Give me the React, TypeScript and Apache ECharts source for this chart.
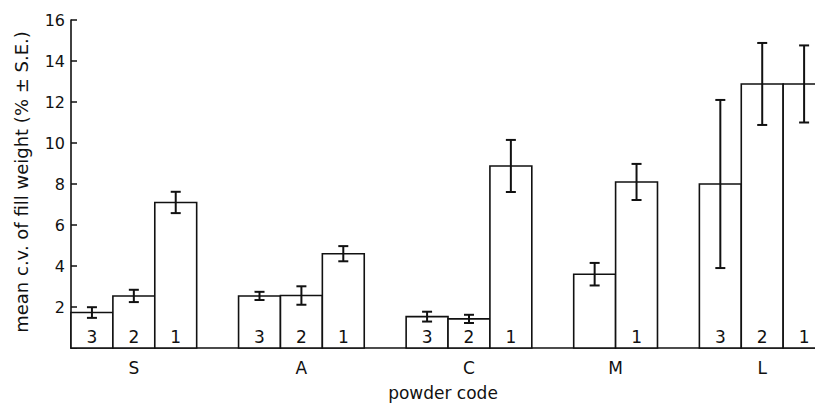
import React, { useEffect, useRef } from "react";
import * as echarts from "echarts";

// powder groups and where their labels sit (slot units)
const groupNames = ["S", "A", "C", "M", "L"];
const groupCenters = [1.5, 5.5, 9.5, 13, 16.5];

// each bar occupies one slot [slot, slot+1]
const barSlots = [0, 1, 2, 4, 5, 6, 8, 9, 10, 12, 13, 15, 16, 17];
const barCodes = ["3", "2", "1", "3", "2", "1", "3", "2", "1", "", "1", "3", "2", "1"];
const barMeans = [1.73, 2.54, 7.1, 2.54, 2.56, 4.6, 1.53, 1.42, 8.88, 3.6, 8.1, 8.0, 12.88, 12.88];
const barSE = [0.26, 0.3, 0.52, 0.2, 0.45, 0.37, 0.24, 0.2, 1.27, 0.55, 0.88, 4.1, 2.0, 1.88];

const yTicks = [0, 2, 4, 6, 8, 10, 12, 14, 16];

const FONT = "DejaVu Sans";
const INK = "#111";

export default function App() {
  const ref = useRef<HTMLDivElement>(null);
  useEffect(() => {
    if (!ref.current) return;
    const chart = echarts.init(ref.current, undefined, { renderer: "svg" });
    const data = barSlots.map((s, i) => [s, barMeans[i], barSE[i]]);
    chart.setOption({
      animation: false,
      backgroundColor: "#fff",
      grid: { left: 71, right: 0, top: 20, bottom: 52 },
      xAxis: {
        type: "value",
        min: 0,
        max: 17.76,
        splitLine: { show: false },
        axisTick: { show: false },
        axisLine: { show: true, lineStyle: { color: INK, width: 1.6 } },
        axisLabel: {
          customValues: groupCenters,
          formatter: (v: number) => {
            const i = groupCenters.findIndex((c) => Math.abs(c - v) < 1e-6);
            return i >= 0 ? groupNames[i] : "";
          },
          color: INK,
          fontFamily: FONT,
          fontSize: 17,
          margin: 11,
        },
        name: "powder code",
        nameLocation: "middle",
        nameGap: 36,
        nameTextStyle: { color: INK, fontFamily: FONT, fontSize: 17 },
      },
      yAxis: {
        type: "value",
        min: yTicks[0],
        max: yTicks[yTicks.length - 1],
        interval: 2,
        splitLine: { show: false },
        axisLine: { show: true, lineStyle: { color: INK, width: 1.6 } },
        axisTick: { show: true, inside: true, length: 6, lineStyle: { color: INK, width: 1.5 } },
        axisLabel: {
          formatter: (v: number) => (v === 0 ? "" : String(v)),
          color: INK,
          fontFamily: FONT,
          fontSize: 16,
          margin: 6,
        },
      },
      graphic: [
        {
          type: "text",
          x: 21,
          y: 182,
          rotation: Math.PI / 2,
          style: {
            text: "mean c.v. of fill weight (% ± S.E.)",
            fill: INK,
            font: `18px '${FONT}'`,
            textAlign: "center",
            textVerticalAlign: "middle",
          },
        },
      ],
      series: [
        {
          type: "custom",
          clip: false,
          data,
          encode: { x: 0, y: 1 },
          renderItem: (params: any, api: any) => {
            const slot = api.value(0);
            const mean = api.value(1);
            const se = api.value(2);
            const tl = api.coord([slot, mean]);
            const br = api.coord([slot + 1, 0]);
            const hi = api.coord([slot + 0.5, mean + se]);
            const lo = api.coord([slot + 0.5, mean - se]);
            const cx = hi[0];
            const cap = 5;
            const err = { stroke: INK, lineWidth: 2 };
            return {
              type: "group",
              children: [
                {
                  type: "rect",
                  shape: { x: tl[0], y: tl[1], width: br[0] - tl[0], height: br[1] - tl[1] },
                  style: { fill: "#fff", stroke: INK, lineWidth: 1.6 },
                },
                { type: "line", shape: { x1: cx, y1: hi[1], x2: cx, y2: lo[1] }, style: err },
                { type: "line", shape: { x1: cx - cap, y1: hi[1], x2: cx + cap, y2: hi[1] }, style: err },
                { type: "line", shape: { x1: cx - cap, y1: lo[1], x2: cx + cap, y2: lo[1] }, style: err },
                {
                  type: "text",
                  x: cx,
                  y: br[1] - 11,
                  style: {
                    text: barCodes[params.dataIndex],
                    fill: INK,
                    font: `17px '${FONT}'`,
                    textAlign: "center",
                    textVerticalAlign: "middle",
                  },
                },
              ],
            };
          },
        },
      ],
    });
    return () => chart.dispose();
  }, []);
  return (
    <div
      ref={ref}
      style={{ position: "fixed", left: 0, top: 0, width: 815, height: 406, background: "#fff" }}
    />
  );
}
